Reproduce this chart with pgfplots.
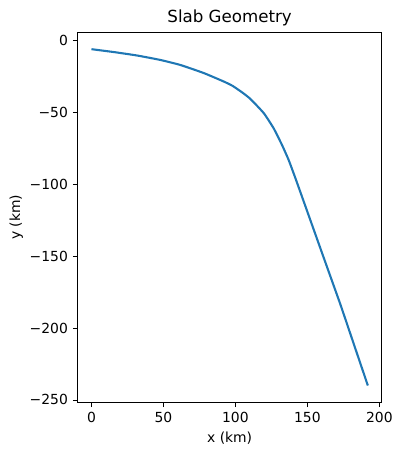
\documentclass[border=0pt]{standalone}
\usepackage{pgfplots}
\pgfplotsset{compat=1.18}
\usepackage{fontspec}
\setmainfont{DejaVu Sans}
\definecolor{mplblue}{HTML}{1F77B4}
\begin{document}
\begin{tikzpicture}
\begin{axis}[
  width=218.9pt, height=266.4pt, scale only axis,
  xmin=-9.6, xmax=201.6, ymin=-251.7, ymax=5.7,
  xtick={0,50,100,150,200},
  ytick={-250,-200,-150,-100,-50,0},
  yticklabels={−250,−200,−150,−100,−50,0},
  tick pos=left, tick align=outside,
  major tick length=3.5pt,
  tick style={black, line width=0.6pt},
  axis line style={line width=0.6pt},
  /pgf/number format/assume math mode=true,
  tick label style={font=\fontsize{10}{12}\selectfont},
  label style={font=\fontsize{10}{12}\selectfont},
  xlabel={x (km)}, ylabel={y (km)},
  title={Slab Geometry},
  title style={font=\fontsize{12}{14}\selectfont, yshift=-5pt},
  xlabel style={yshift=0pt},
  ylabel style={yshift=-2pt},
]
\addplot[mplblue, line width=1.5pt, smooth, tension=0.3] coordinates {
(0,-6) (15.5,-8.0) (31.7,-10.4) (47.9,-13.5) (61.8,-17.0) (78,-22.6)
(91.9,-28.5) (98,-31.5) (105,-36.3) (110.4,-40.6) (119.7,-50.5) (126.6,-61.1)
(132.4,-72.7) (137,-83.1) (141.7,-95.8) (147.4,-111.8) (154.4,-131.5)
(162.5,-154.3) (172.9,-183.5) (182.2,-211) (192,-240)
};
\end{axis}
\pgfresetboundingbox
\path (current axis.south west) ++(-55.9pt,-37.9pt) rectangle ++(288.7pt,327.6pt);
\end{tikzpicture}
\end{document}
